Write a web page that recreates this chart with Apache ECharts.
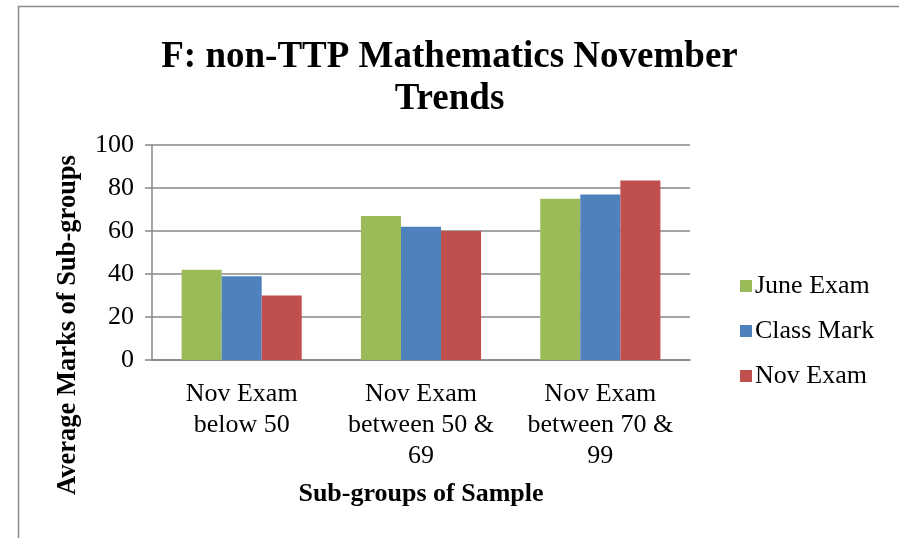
<!DOCTYPE html>
<html>
<head>
<meta charset="utf-8">
<script src="https://cdn.jsdelivr.net/npm/echarts@6/dist/echarts.min.js"></script>
<style>
html, body { margin: 0; padding: 0; background: #fff; }
#chart { width: 899px; height: 538px; }
</style>
</head>
<body>
<div id="chart"></div>
<script>
// data
const categories = ["Nov Exam\nbelow 50", "Nov Exam\nbetween 50 &\n69", "Nov Exam\nbetween 70 &\n99"];
const juneExam = [42, 67, 75];
const classMark = [39, 62, 77];
const novExam = [30, 60, 83.5];
const yTicks = [0, 20, 40, 60, 80, 100];

const serif = "Liberation Serif";
const gray = "#878787";

const chart = echarts.init(document.getElementById("chart"));
chart.setOption({
    animation: false,
    color: ["#9bbb59", "#4f81bd", "#c0504d"],
    title: {
        text: "F: non-TTP Mathematics November\nTrends",
        left: "center",
        top: 31,
        textStyle: {
            fontFamily: serif,
            fontWeight: "bold",
            fontSize: 37,
            lineHeight: 42,
            color: "#000"
        }
    },
    legend: {
        orient: "vertical",
        left: 735,
        top: 268,
        itemWidth: 12,
        itemHeight: 12,
        itemGap: 19,
        icon: "rect",
        textStyle: { fontFamily: serif, fontSize: 26, color: "#000", padding: [0, 0, 0, -2] },
        data: ["June Exam", "Class Mark", "Nov Exam"]
    },
    grid: {
        left: 152,
        right: 209,
        top: 145,
        bottom: 178
    },
    xAxis: {
        type: "category",
        data: categories,
        name: "Sub-groups of Sample",
        nameLocation: "middle",
        nameGap: 121,
        nameTextStyle: { fontFamily: serif, fontWeight: "bold", fontSize: 26, color: "#000" },
        axisLine: { lineStyle: { color: gray, width: 1.5 } },
        axisTick: { show: false },
        axisLabel: {
            fontFamily: serif,
            fontSize: 26,
            lineHeight: 31,
            color: "#000",
            margin: 19,
            interval: 0
        }
    },
    yAxis: {
        type: "value",
        min: 0,
        max: 100,
        interval: 20,
        axisLine: { show: true, lineStyle: { color: gray, width: 1.5 } },
        axisTick: { show: true, length: 7, lineStyle: { color: gray, width: 1.5 } },
        splitLine: { lineStyle: { color: gray, width: 1.5 } },
        axisLabel: {
            fontFamily: serif,
            fontSize: 26,
            color: "#000",
            margin: 18,
            formatter: v => yTicks.includes(v) ? String(v) : ""
        }
    },
    graphic: [{
        type: "rect",
        shape: { x: 18.5, y: 6.5, width: 1000, height: 1000 },
        style: { fill: "none", stroke: "#8a8a8a", lineWidth: 1.5 },
        silent: true
    }, {
        type: "text",
        x: 68,
        y: 325,
        rotation: Math.PI / 2,
        style: {
            text: "Average Marks of Sub-groups",
            fontFamily: serif,
            fontWeight: "bold",
            fontSize: 26.5,
            fill: "#000",
            textAlign: "center",
            textVerticalAlign: "middle"
        }
    }],
    series: [{
        name: "June Exam",
        type: "bar",
        data: juneExam,
        barGap: "0%",
        barCategoryGap: "33%"
    }, {
        name: "Class Mark",
        type: "bar",
        data: classMark
    }, {
        name: "Nov Exam",
        type: "bar",
        data: novExam
    }]
});
</script>
</body>
</html>
